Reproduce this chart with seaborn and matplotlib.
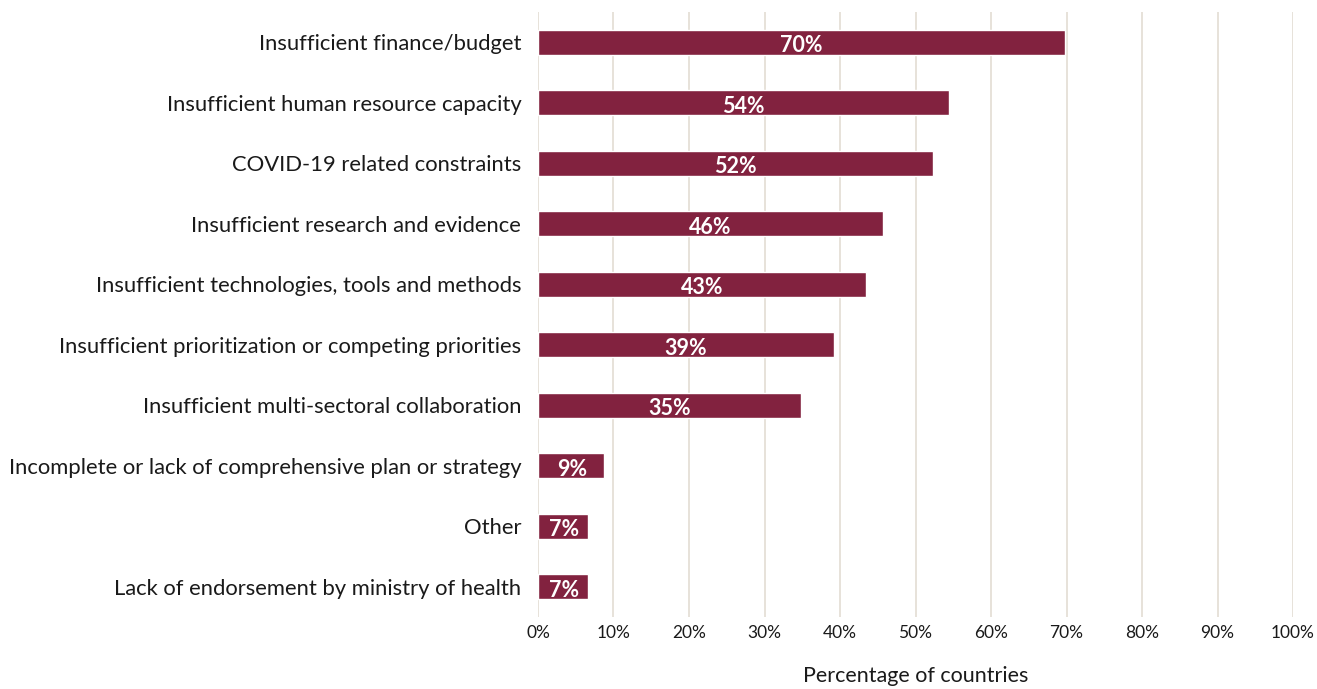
import matplotlib
matplotlib.use("Agg")
import matplotlib.pyplot as plt
import seaborn as sns
import pandas as pd
from matplotlib.ticker import PercentFormatter

categories = [
    "Insufficient finance/budget",
    "Insufficient human resource capacity",
    "COVID-19 related constraints",
    "Insufficient research and evidence",
    "Insufficient technologies, tools and methods",
    "Insufficient prioritization or competing priorities",
    "Insufficient multi-sectoral collaboration",
    "Incomplete or lack of comprehensive plan or strategy",
    "Other",
    "Lack of endorsement by ministry of health",
]
values = [69.8, 54.4, 52.3, 45.7, 43.4, 39.2, 34.8, 8.7, 6.6, 6.6]
value_labels = ["70%", "54%", "52%", "46%", "43%", "39%", "35%", "9%", "7%", "7%"]
x_ticks = [0, 10, 20, 30, 40, 50, 60, 70, 80, 90, 100]

df = pd.DataFrame({"category": categories, "value": values})

sns.set_theme(style="white")
plt.rcParams["font.family"] = ["Lato", "DejaVu Sans"]

fig = plt.figure(figsize=(13.17, 6.89), dpi=100)
ax = fig.add_axes([0.4085, 0.1045, 0.9818 - 0.4085, 0.9826 - 0.1045])

sns.barplot(data=df, x="value", y="category", orient="h", color="#82223F",
            saturation=1, width=0.41, ax=ax, zorder=3)

ax.set_xlim(0, 100)
ax.set_ylim(len(categories) - 0.5, -0.5)
ax.set_xticks(x_ticks)
ax.xaxis.set_major_formatter(PercentFormatter(decimals=0))
ax.grid(axis="x", color="#e3ddd3", linewidth=1.2, zorder=0)
ax.grid(axis="y", visible=False)
for s in ax.spines.values():
    s.set_visible(False)
ax.tick_params(axis="both", length=0)
ax.tick_params(axis="y", labelsize=15.8, pad=12, colors="#1a1a1a")
ax.tick_params(axis="x", labelsize=12.5, pad=6, colors="#1a1a1a")
ax.set_ylabel("")
ax.set_xlabel("Percentage of countries", fontsize=15.5, labelpad=18, color="#1a1a1a")

for i, (v, lab) in enumerate(zip(values, value_labels)):
    ax.text(v / 2 if v > 15 else v / 2 + 0.2, i + 0.06, lab, ha="center", va="center",
            color="white", fontsize=15.5, fontweight="bold", zorder=4)

fig.savefig("out.png", dpi=100)
